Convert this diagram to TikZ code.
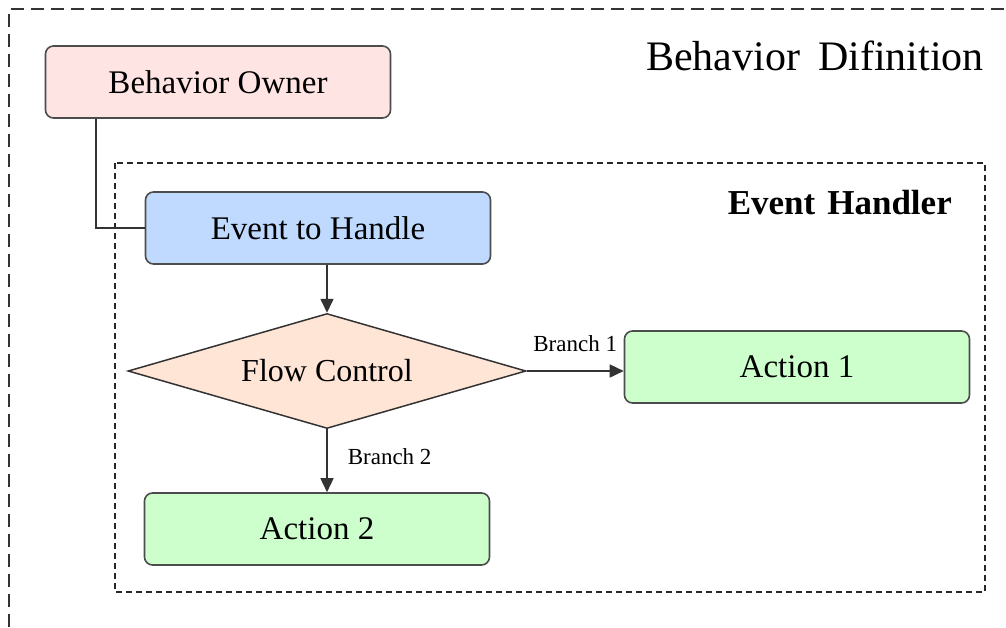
\documentclass[tikz,border=0pt]{standalone}
\usepackage{fontspec}
\setmainfont{Liberation Serif}
\usetikzlibrary{shapes.geometric, positioning, arrows.meta}
\definecolor{ownerfill}{RGB}{255,228,228}
\definecolor{eventfill}{RGB}{192,218,255}
\definecolor{flowfill}{RGB}{255,229,214}
\definecolor{actionfill}{RGB}{204,255,204}
\tikzset{
	>={Triangle[length=14pt,width=13pt]},
	every node/.style={text=black},
}

\begin{document}
\begin{tikzpicture}[
    x=1pt,
    y=-1pt,
    blk/.style={draw=black!70, line width=1.6pt, rounded corners=8pt,
      minimum width=345pt, minimum height=72pt, inner sep=0pt,
      font=\fontsize{33}{38}\selectfont},
    flow/.style={draw=black!80, line width=1.5pt, diamond, aspect=3.46,
      minimum width=398pt, minimum height=115pt, inner sep=0pt,
      fill=flowfill, font=\fontsize{32}{36}\selectfont},
    link/.style={draw=black!80, line width=1.6pt},
    arr/.style={link, ->},
    tag/.style={font=\fontsize{23}{26}\selectfont, inner sep=2pt}
]
\useasboundingbox (0,0) rectangle (1006,627);

% --- Frames ---
\draw[line width=1.8pt, black!80, dash pattern=on 13pt off 7pt] (9,627) -- (9,9) -- (1006,9);
\draw[line width=1.3pt, black!85, dash pattern=on 6pt off 4pt] (115,163) rectangle (985,592);

% --- Titles ---
\node[anchor=base east, inner sep=0pt, font=\fontsize{42}{46}\selectfont] (deftitle) at (984,70) {Behavior\hspace{18pt}Difinition};
\node[anchor=base east, inner sep=0pt, font=\bfseries\fontsize{35}{40}\selectfont] (handlertitle) at (952,214) {Event\hspace{12pt}Handler};

% --- Blocks ---
\node[blk, fill=ownerfill] (owner) at (218,82) {Behavior Owner};
\node[blk, fill=eventfill] (event) at (318,228) {Event to Handle};
\node[flow] (control) at (327,371) {Flow Control};
\node[blk, fill=actionfill] (act1) at (797,367) {Action 1};
\node[blk, fill=actionfill] (act2) at (317,529) {Action 2};

% --- Links ---
\coordinate (tap) at ([xshift=51pt]owner.south west);
\draw[link] (tap) |- (event.west);
\draw[arr] (event.south -| control.north) -- (control.north);
\draw[arr] (control.east) -- (control.east -| act1.west) node[tag, midway, above=16pt] {Branch 1};
\draw[arr] (control.south) -- (control.south |- act2.north) node[tag, midway, right=18pt, yshift=4pt] {Branch 2};
\end{tikzpicture}
\end{document}
